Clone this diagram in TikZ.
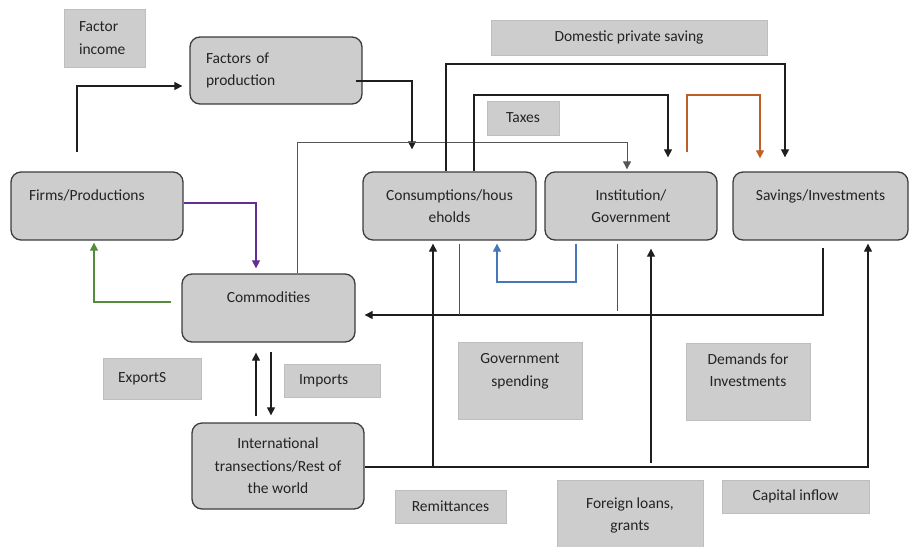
\documentclass[tikz,border=0pt]{standalone}
\usepackage{fontspec}
\setmainfont{Carlito}
\usetikzlibrary{arrows.meta,calc}
\definecolor{boxfill}{RGB}{205,205,205}
\definecolor{boxline}{RGB}{60,60,60}
\definecolor{lblline}{RGB}{190,190,190}
\definecolor{connline}{RGB}{30,30,30}
\definecolor{connthin}{RGB}{85,85,85}
\definecolor{txt}{RGB}{35,35,35}
\definecolor{purplec}{RGB}{100,45,145}
\definecolor{greenc}{RGB}{84,140,60}
\definecolor{bluec}{RGB}{70,120,185}
\definecolor{orangec}{RGB}{190,95,40}
\begin{document}
\begin{tikzpicture}[x=1pt,y=-1pt,
  font=\fontsize{15.5}{22.5}\selectfont, text=txt,
  mainbox/.style={draw=boxline, fill=boxfill, rounded corners=10pt, line width=1.3pt, inner sep=0pt, align=center},
  lbl/.style={draw=lblline, fill=boxfill, line width=0.6pt, inner sep=0pt, align=center},
  conn/.style={draw=connline, line width=1.1pt},
  thinconn/.style={draw=connthin, line width=0.9pt},
  arr/.style={conn, -{Triangle[length=8pt,width=8pt]}},
]
\useasboundingbox (0,0) rectangle (909,546);

% main boxes
\node[mainbox, minimum width=172pt, minimum height=67pt, text width=140pt, align=left] (fac) at (276,70.5) {Factors of\\production};
\node[mainbox, minimum width=172pt, minimum height=68pt, text width=136pt, align=left] (firms) at (97,206) {Firms/Productions\\~};
\node[mainbox, minimum width=173pt, minimum height=68pt] (cons) at (449.5,206) {Consumptions/hous\\eholds};
\node[mainbox, minimum width=172pt, minimum height=68pt] (inst) at (631,206) {Institution/\\Government};
\node[mainbox, minimum width=175pt, minimum height=68pt] (sav) at (820.5,206) {Savings/Investments\\~};
\node[mainbox, minimum width=173pt, minimum height=68pt] (comm) at (268.5,308) {Commodities\\~};
\node[mainbox, minimum width=172pt, minimum height=86pt] (intl) at (278,466) {International\\transections/Rest of\\the world};

% labels
\node[lbl, minimum width=81pt, minimum height=58pt, text width=51pt, align=left] (lfi) at (104.5,38) {Factor\\income};
\node[lbl, minimum width=276pt, minimum height=35pt] (ldps) at (629,37.5) {Domestic private saving};
\node[lbl, minimum width=72pt, minimum height=34pt] (ltax) at (523,118) {Taxes};
\node[lbl, minimum width=98pt, minimum height=41pt, text width=68pt, align=left] (lexp) at (152,378.5) {ExportS};
\node[lbl, minimum width=96pt, minimum height=33pt, text width=66pt, align=left] (limp) at (332,380.5) {Imports};
\node[lbl, minimum width=124pt, minimum height=77pt] (lgov) at (520,381) {Government\\spending\\~};
\node[lbl, minimum width=124pt, minimum height=77pt] (ldem) at (748,381.5) {Demands for\\Investments\\~};
\node[lbl, minimum width=111pt, minimum height=33pt] (lrem) at (450.5,506.5) {Remittances};
\node[lbl, minimum width=146pt, minimum height=70pt] (lfor) at (630,515) {\raisebox{6pt}{\begin{tabular}{@{}c@{}}Foreign loans,\\grants\end{tabular}}};
\node[lbl, minimum width=147pt, minimum height=33pt] (lcap) at (795.5,496.5) {Capital inflow};

% connectors
\draw[arr, shorten <=19pt, shorten >=7pt] ([xshift=-20pt]firms.north) |- ([yshift=-15.5pt]fac.west);
\draw[arr, shorten >=22pt] ([xshift=-7pt,yshift=-10.5pt]fac.east) -| ([xshift=-37.5pt]cons.north);

\coordinate (k3) at (297,142);
\draw[thinconn, -{Triangle[length=8pt,width=8pt]}, shorten >=2pt] (comm.north -| k3) -- (k3) -| ([xshift=-4pt]inst.north);

\coordinate (k4) at (446,64);
\draw[arr, shorten >=14pt] (cons.north -| k4) -- (k4) -| ([xshift=-35.5pt]sav.north);

\coordinate (k5) at (474,95);
\draw[arr, shorten >=14pt] (cons.north -| k5) -- (k5) -| ([xshift=37pt]inst.north);

\coordinate (k6) at (687,95);
\draw[arr, draw=orangec, shorten <=19pt, shorten >=13pt] (inst.north -| k6) -- (k6) -| ([xshift=-60.5pt]sav.north);

\draw[arr, draw=purplec, shorten >=5pt] ([yshift=3pt]firms.east) -| ([xshift=-12.5pt]comm.north);
\draw[arr, draw=greenc, shorten <=10pt, shorten >=2pt] ([yshift=6pt]comm.west) -| ([xshift=-3pt]firms.south);

\draw[arr, shorten <=6pt, shorten >=10pt] ([xshift=-22pt]intl.north) -- ([xshift=-12.5pt]comm.south);
\draw[arr, shorten <=9pt, shorten >=7pt] ([xshift=2.5pt]comm.south) -- ([xshift=-7pt]intl.north);

\coordinate (k10) at (868,467);
\draw[arr, shorten >=3pt] ([yshift=-1pt]intl.east) -- (k10) -- (sav.south -| k10);
\coordinate (k11) at (433,467);
\draw[arr, shorten >=3pt] (k11) -- (cons.south -| k11);
\coordinate (k12) at (651,463);
\draw[arr, shorten >=8pt] (k12) -- (inst.south -| k12);

\coordinate (k13) at (823,315);
\draw[arr, shorten <=7pt, shorten >=9pt] (sav.south -| k13) -- (k13) -- (comm.east |- k13);
\coordinate (k14) at (459,315);
\draw[thinconn, shorten <=3pt] (cons.south -| k14) -- (k14);
\coordinate (k15) at (617,311);
\draw[thinconn, shorten <=3pt] (inst.south -| k15) -- (k15);

\coordinate (k16a) at (576,282);
\coordinate (k16b) at (497,282);
\draw[arr, draw=bluec, shorten <=3pt, shorten >=3pt] (inst.south -| k16a) -- (k16a) -- (k16b) -- (cons.south -| k16b);
\end{tikzpicture}
\end{document}
